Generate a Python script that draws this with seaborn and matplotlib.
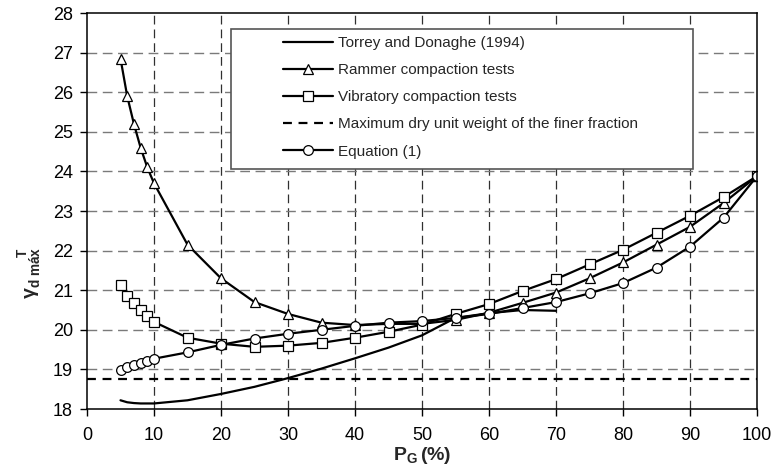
import matplotlib
matplotlib.use("Agg")
import matplotlib.pyplot as plt
from matplotlib.patches import Rectangle
import seaborn as sns
import pandas as pd

# Gravel fraction P_G (%) at which the compaction tests were run
pg_tests = [5, 6, 7, 8, 9, 10, 15, 20, 25, 30, 35, 40, 45, 50,
            55, 60, 65, 70, 75, 80, 85, 90, 95, 100]

rammer = [26.85, 25.9, 25.2, 24.6, 24.1, 23.7, 22.15, 21.3, 20.7, 20.4, 20.18, 20.12,
          20.15, 20.15, 20.25, 20.43, 20.68, 20.94, 21.3, 21.7, 22.15, 22.6, 23.2, 23.88]

vibratory = [21.12, 20.85, 20.68, 20.5, 20.35, 20.2, 19.8, 19.65, 19.57, 19.6, 19.67, 19.8,
             19.95, 20.13, 20.4, 20.65, 20.98, 21.28, 21.65, 22.02, 22.45, 22.88, 23.35, 23.88]

equation = [18.98, 19.05, 19.1, 19.15, 19.2, 19.27, 19.43, 19.62, 19.78, 19.9, 20.0, 20.1,
            20.18, 20.22, 20.3, 20.4, 20.55, 20.7, 20.92, 21.18, 21.57, 22.1, 22.83, 23.88]

# Torrey and Donaghe (1994) relation
pg_torrey = [5, 6, 7, 8, 9, 10, 15, 20, 25, 30, 35, 40, 45, 50, 55, 60, 65, 70]
torrey = [18.22, 18.17, 18.15, 18.14, 18.14, 18.14, 18.22, 18.38, 18.56, 18.78,
          19.02, 19.28, 19.55, 19.86, 20.3, 20.42, 20.5, 20.48]

# Maximum dry unit weight of the finer fraction
pg_range = [0, 100]
gamma_fine = 18.75

labels = ["Torrey and Donaghe (1994)", "Rammer compaction tests",
          "Vibratory compaction tests", "Maximum dry unit weight of the finer fraction",
          "Equation (1)"]
x_ticks = list(range(0, 101, 10))
y_ticks = list(range(18, 29))

sns.set_style("ticks")
plt.rcParams["font.family"] = ["Liberation Sans", "DejaVu Sans"]
plt.rcParams["mathtext.fontset"] = "custom"
plt.rcParams["mathtext.rm"] = "Liberation Sans"
plt.rcParams["mathtext.bf"] = "Liberation Sans:bold"
plt.rcParams["mathtext.it"] = "Liberation Sans:italic"

fig = plt.figure(figsize=(7.74, 4.70), dpi=100)
ax = fig.add_axes([87 / 774, 61 / 470, 670 / 774, 396 / 470])

line_kw = dict(color="black", linewidth=1.6, sort=False, estimator=None)
mk_kw = dict(markersize=7, markerfacecolor="white", markeredgecolor="black",
             markeredgewidth=0.9)

df_torrey = pd.DataFrame({"pg": pg_torrey, "g": torrey})
df_tests = pd.DataFrame({"pg": pg_tests, "rammer": rammer,
                         "vibratory": vibratory, "equation": equation})
df_fine = pd.DataFrame({"pg": pg_range, "g": [gamma_fine] * len(pg_range)})

sns.lineplot(data=df_torrey, x="pg", y="g", ax=ax, label=labels[0], **line_kw)
sns.lineplot(data=df_tests, x="pg", y="rammer", ax=ax, label=labels[1],
             marker="^", **line_kw, **mk_kw)
sns.lineplot(data=df_tests, x="pg", y="vibratory", ax=ax, label=labels[2],
             marker="s", **line_kw, **mk_kw)
sns.lineplot(data=df_fine, x="pg", y="g", ax=ax, label=labels[3],
             linestyle=(0, (4, 3)), **line_kw)
sns.lineplot(data=df_tests, x="pg", y="equation", ax=ax, label=labels[4],
             marker="o", **line_kw, **mk_kw)

ax.set_xlim(0, 100)
ax.set_ylim(18, 28)
ax.set_xticks(x_ticks)
ax.set_yticks(y_ticks)

# dashed grid: vertical darker, horizontal grey
for xv in x_ticks[1:-1]:
    ax.axvline(xv, color="#303030", linewidth=0.9, linestyle=(0, (7, 4)), zorder=0)
for yv in y_ticks[1:-1]:
    ax.axhline(yv, color="#7a7a7a", linewidth=1.0, linestyle=(0, (7, 4)), zorder=0)

for side in ["left", "right", "top", "bottom"]:
    ax.spines[side].set_visible(True)
    ax.spines[side].set_color("black")
    ax.spines[side].set_linewidth(1.1)

ax.tick_params(axis="both", direction="out", length=5, width=1, color="black",
               labelsize=13, labelcolor="black", pad=5)
ax.tick_params(axis="x", pad=8)

ax.set_xlabel(r"$\mathbf{P_{G}\,(\%)}$", fontsize=14, labelpad=1)
ax.set_ylabel("")
fig.text(0.038, 197 / 470, r"$\mathbf{γ_{d\ máx}^{\ \ \ \ \ \ \ \ T}}$",
         rotation=90, fontsize=14, ha="center", va="center")

# legend inside a white framed box
frame = Rectangle((231 / 774, (470 - 169) / 470), (693 - 231) / 774, 140 / 470,
                  transform=fig.transFigure, facecolor="white", edgecolor="#555555",
                  linewidth=1.2, zorder=3, clip_on=False)
ax.add_patch(frame)
leg = ax.legend(loc="upper left", bbox_to_anchor=(283 / 774, (470 - 36) / 470),
                bbox_transform=fig.transFigure, frameon=False, fontsize=11,
                handlelength=3.25, handletextpad=0.32, labelspacing=0.86,
                borderpad=0, borderaxespad=0)
leg.set_zorder(5)

fig.savefig("out.png", dpi=100)
